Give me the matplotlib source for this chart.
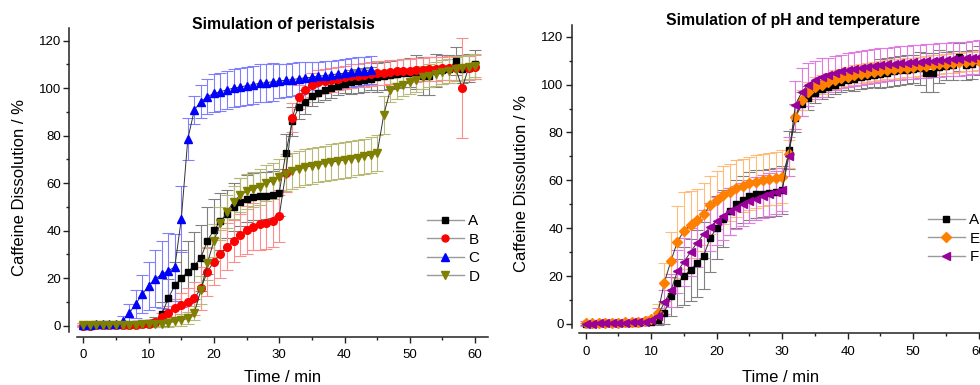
import matplotlib
matplotlib.use("Agg")
import matplotlib.pyplot as plt
from matplotlib.lines import Line2D
import numpy as np

plt.rcParams['font.family'] = ['Liberation Sans', 'DejaVu Sans']

# ---------------- data ----------------
t_full = list(range(0, 61))
t_C = list(range(0, 45))

A = [0, 0.2, 0.3, 0.3, 0.4, 0.4, 0.5, 0.5, 0.6, 0.8, 1.0,
     1.5, 4.8, 11.5, 17, 20, 22.7, 25.3, 28.6, 35.8, 40.3,
     44, 47, 50, 52, 53.5, 54.3, 54.5, 54.8, 55.2, 56,
     72.6, 86, 92, 94.3, 96.5, 98, 99, 100, 101, 101.8,
     102.5, 103, 103.5, 104, 104.5, 105, 105.5, 106, 106.3, 106.5,
     106.8, 105, 105, 107.5, 107.8, 108, 111.5, 108, 108.5, 110]
A_err = [0.5] * 11 + [2, 5, 8, 10, 12, 13, 14, 14, 14, 13,
                      12, 10, 10, 10, 10, 10, 10, 10, 10, 10,
                      8, 6, 5, 5, 4, 4, 4, 4, 4, 4,
                      5, 5, 5, 5, 6, 6, 6, 6, 6, 6,
                      7, 8, 8, 7, 6, 6, 6, 6, 6, 6]

B = [0, 0.1, 0.2, 0.2, 0.3, 0.3, 0.4, 0.4, 0.5, 0.6, 0.8,
     1.5, 3.5, 5.2, 7.3, 8.7, 10, 11.5, 15.7, 22.7, 27,
     30.2, 33.3, 35.7, 38.2, 40.3, 41.7, 43, 43.4, 44.2, 46.2,
     64.4, 87.6, 96.2, 99.2, 101.3, 102.5, 103, 103.5, 104, 104.5,
     105, 105.3, 105.6, 106, 106.3, 106.5, 106.8, 107, 107.2, 107.4,
     107.6, 107.8, 108, 108.2, 108.3, 108.5, 108.6, 100, 108.5, 109]
B_err = [0.5] * 11 + [1.5, 2, 3, 4, 5, 6, 7, 9, 10, 10,
                      10, 10, 9, 9, 10, 10, 11, 11, 11, 11,
                      8, 6, 5, 5, 5, 5, 5, 5, 5, 5,
                      5, 5, 5, 5, 5, 5, 5, 5, 5, 5,
                      5, 5, 5, 5, 5, 5, 5, 21, 5, 5]

C = [0.5, 0.5, 0.6, 0.6, 0.7, 0.8, 2, 5.2, 9.1, 13.2, 16.8,
     19.7, 21.6, 23.2, 24.6, 44.9, 78.6, 90.8, 94.3, 96.4, 97.8,
     98.5, 99.3, 100, 100.5, 101, 101.5, 102, 102.3, 102.7, 103,
     103.3, 103.6, 104, 104.3, 104.6, 105, 105.3, 105.6, 106, 106.3,
     106.6, 107, 107.3, 107.7]
C_err = [0.5] * 6 + [2, 4, 6, 8, 10,
                     12, 14, 16, 14, 14, 9, 6, 7, 7.5, 8,
                     8, 8, 8, 8, 8, 8, 8, 8, 8, 7,
                     7, 7, 7, 6.5, 6.5, 6, 6, 6, 6, 6,
                     6, 6, 6, 6]

D = [0.3, 0.3, 0.3, 0.4, 0.4, 0.4, 0.5, 0.5, 0.5, 0.6, 0.7,
     0.8, 0.9, 1.3, 1.8, 2.4, 3.1, 5.5, 15, 26.3, 35.8,
     43.1, 48, 52, 55, 56.5, 57.4, 58.5, 60, 61, 62.5,
     64, 65, 66, 66.7, 67.3, 67.8, 68.3, 68.8, 69.3, 69.8,
     70.3, 70.8, 71.3, 71.8, 72.6, 88.7, 99.2, 100.5, 101.5, 102.5,
     103.5, 104.5, 105.3, 106, 106.7, 107.3, 108, 108.5, 109, 109.5]
D_err = [1] * 12 + [1.5, 2, 2, 2.5, 2.5, 3, 6, 7, 7,
                    7, 7, 7, 7, 7.5, 7.5, 7.5, 7.5, 7.5, 7.5,
                    7.5, 7.5, 7.5, 7.5, 7.5, 7.5, 7.5, 7.5, 7.5, 7.5,
                    7.5, 7.5, 7.5, 7.5, 7.6, 8, 5, 5, 5, 5,
                    5, 5, 5, 5, 5, 5, 5, 5, 5, 5]

E = [0.3, 0.3, 0.4, 0.4, 0.5, 0.6, 0.7, 0.8, 1.0, 1.3, 2.0,
     4.5, 17.3, 26.3, 34.4, 39, 41.5, 43.4, 45.8, 49.7, 51.8,
     53.9, 55, 56.6, 57.8, 58.8, 59.5, 60.2, 60.5, 60.9, 61.5,
     71, 86.6, 93.6, 97, 99, 100, 101, 102, 102.7, 103.3,
     104, 104.5, 105, 105.4, 105.8, 106.2, 106.5, 106.8, 107, 107.3,
     107.6, 107.9, 108.2, 108.5, 108.8, 109, 109.3, 109.5, 109.8, 110]
E_err = [1] * 10 + [1.5, 4, 8, 12, 15, 16, 14, 13, 13, 12, 12,
                    12, 12, 12, 11, 11, 11, 11, 11, 11, 11,
                    6, 5, 4, 4, 4, 4, 4, 4, 4, 4,
                    4, 4, 4, 4, 4, 4, 4, 4, 4, 4,
                    4, 4, 4, 4, 4, 4, 4, 4, 4, 4]

F = [0.2, 0.2, 0.3, 0.3, 0.4, 0.5, 0.6, 0.7, 0.8, 1.0, 1.5,
     3.5, 9, 14, 22, 26, 30, 34, 37.5, 40.5, 43,
     45, 47, 48.5, 50, 51.2, 52.3, 53.3, 54.2, 55, 56,
     70, 91.5, 97, 100, 102, 103, 104, 104.8, 105.5, 106,
     106.5, 107, 107.4, 107.8, 108.2, 108.5, 108.8, 109, 109.2, 109.4,
     109.6, 109.8, 110, 110.2, 110.4, 110.6, 110.8, 111, 111.3, 111.6]
F_err = [1] * 10 + [1.5, 3, 5, 7, 9, 10, 10, 10, 10, 10, 10,
                    10, 10, 9, 9, 9, 9, 9, 9, 9, 9,
                    8, 10, 10, 9, 8, 8, 7, 7, 7, 7,
                    7, 7, 7, 7, 7, 7, 7, 7, 7, 7,
                    7, 7, 7, 7, 7, 7, 7, 7, 7, 7]

x_ticks = [0, 10, 20, 30, 40, 50, 60]
y_ticks = [0, 20, 40, 60, 80, 100, 120]
title_left = "Simulation of peristalsis"
title_right = "Simulation of pH and temperature"
xlabel = "Time / min"
ylabel = "Caffeine Dissolution / %"

# style: (marker, color, errcolor, size)
styles = {
    'A': ('s', '#000000', '#808080', 5.0),
    'B': ('o', '#ff0000', '#ff8c8c', 5.5),
    'C': ('^', '#0000ff', '#8080ff', 6.0),
    'D': ('v', '#808000', '#b8b878', 6.0),
    'E': ('D', '#ff8000', '#ffbb77', 5.2),
    'F': ('<', '#990099', '#e07ce0', 6.0),
}

W, H = 980, 385
fig = plt.figure(figsize=(W / 100, H / 100), dpi=100)


def px_axes(x0, x1, ytop, ybot):
    return fig.add_axes([x0 / W, 1 - ybot / H, (x1 - x0) / W, (ybot - ytop) / H])


ax1 = px_axes(76.8, 488.2, 28, 331.7)
ax2 = px_axes(579.2, 991.8, 25, 328.3)


def style_axes(ax, ylim):
    ax.set_xlim(-1, 62)
    ax.set_ylim(*ylim)
    for s in ['top', 'right']:
        ax.spines[s].set_visible(False)
    ax.spines['left'].set_position(('outward', 5.5))
    ax.spines['bottom'].set_position(('outward', 3.5))
    for s in ['left', 'bottom']:
        ax.spines[s].set_linewidth(1.1)
        ax.spines[s].set_color('#222222')
    ax.set_xticks(x_ticks)
    ax.set_yticks(y_ticks)
    ax.set_xticks(np.arange(5, 61, 10), minor=True)
    ax.set_yticks(np.arange(10, 121, 20), minor=True)
    ax.tick_params(which='major', direction='out', length=4.3, width=1.0,
                   labelsize=9.5, color='#222222')
    ax.tick_params(which='minor', direction='out', length=2.5, width=1.0,
                   color='#222222')
    ax.tick_params(axis='x', which='major', pad=5)
    ax.tick_params(axis='y', which='major', pad=1.5)


def draw(ax, t, v, e, key):
    mk, col, ecol, ms = styles[key]
    ax.errorbar(t, v, yerr=e, fmt='none', ecolor=ecol, elinewidth=0.8,
                capsize=4, capthick=0.8, zorder=2)
    ax.plot(t, v, color='#333333', lw=0.7, marker=mk, ms=ms,
            mfc=col, mec=col, zorder=3)


style_axes(ax1, (-2.5, 125.3))
style_axes(ax2, (-1.8, 124.9))

draw(ax1, t_full, A, A_err, 'A')
draw(ax1, t_full, B, B_err, 'B')
draw(ax1, t_C, C, C_err, 'C')
draw(ax1, t_full, D, D_err, 'D')

draw(ax2, t_full, A, A_err, 'A')
draw(ax2, t_full, E, E_err, 'E')
draw(ax2, t_full, F, F_err, 'F')


def make_legend(ax, keys, x_px, y_px):
    handles = []
    for k in keys:
        mk, col, ecol, ms = styles[k]
        handles.append(Line2D([], [], color='#9a9a9a', lw=1.0, marker=mk,
                              ms=ms - 0.5, mfc=col, mec=col))
    leg = ax.legend(handles, keys, loc='upper left', frameon=False,
                    bbox_to_anchor=(x_px / W, 1 - y_px / H),
                    bbox_transform=fig.transFigure, fontsize=11,
                    handlelength=2.4, handletextpad=0.3, labelspacing=0.3,
                    borderpad=0, borderaxespad=0)
    return leg


make_legend(ax1, ['A', 'B', 'C', 'D'], 427, 214)
make_legend(ax2, ['A', 'E', 'F'], 928, 213)

fig.text(283 / W, 1 - 25 / H, title_left, ha='center', va='center',
         fontsize=11.3, fontweight='bold')
fig.text(793 / W, 1 - 21 / H, title_right, ha='center', va='center',
         fontsize=11.3, fontweight='bold')

fig.text(282.5 / W, 1 - 377 / H, xlabel, ha='center', va='center', fontsize=12)
fig.text(781 / W, 1 - 377 / H, xlabel, ha='center', va='center', fontsize=12)
fig.text(20 / W, 1 - 188 / H, ylabel, ha='center', va='center', fontsize=12,
         rotation=90)
fig.text(521.5 / W, 1 - 184 / H, ylabel, ha='center', va='center', fontsize=12,
         rotation=90)

fig.savefig('out.png', dpi=100)
